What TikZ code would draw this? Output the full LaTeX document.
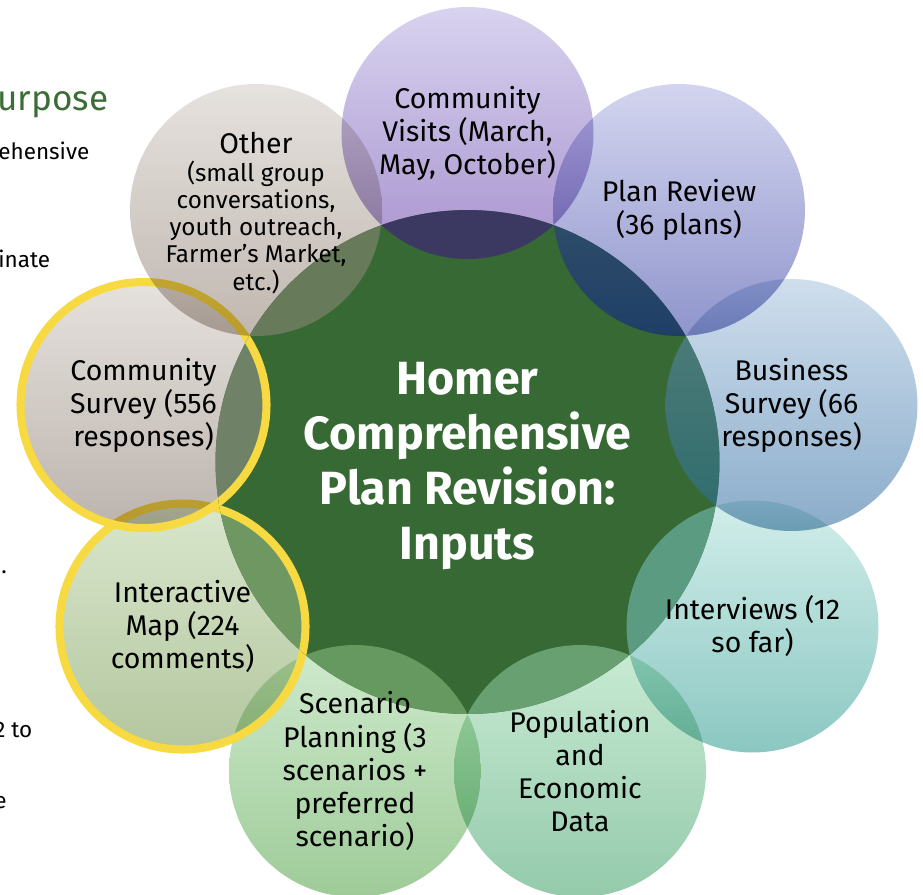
\documentclass[tikz,border=0pt]{standalone}
\usepackage{fontspec}
\setmainfont{Fira Sans}

\definecolor{hubgreen}{HTML}{366933}
\definecolor{slidegreen}{HTML}{3B6E36}
\definecolor{ringyellow}{HTML}{F7DA42}
\definecolor{visitsT}{HTML}{D8D3EF}
\definecolor{visitsB}{HTML}{A893CF}
\definecolor{planT}{HTML}{D3D5EF}
\definecolor{planB}{HTML}{8F95CC}
\definecolor{businessT}{HTML}{CFDEED}
\definecolor{businessB}{HTML}{8AACCA}
\definecolor{interT}{HTML}{D2EEEA}
\definecolor{interB}{HTML}{8BC7C2}
\definecolor{popT}{HTML}{C9EBD4}
\definecolor{popB}{HTML}{94CAAB}
\definecolor{scenT}{HTML}{CFEACD}
\definecolor{scenB}{HTML}{9ECB98}
\definecolor{mapT}{HTML}{D9E7CD}
\definecolor{mapB}{HTML}{B3C69E}
\definecolor{surveyT}{HTML}{E6E2DE}
\definecolor{surveyB}{HTML}{BCB3AD}
\definecolor{otherT}{HTML}{E6E2DE}
\definecolor{otherB}{HTML}{C0B7B0}

\newcommand{\otherbig}{\fontsize{16.2}{15.4}\selectfont}

\tikzset{
    bubble/.style={circle, inner sep=0pt, minimum size=5.04cm},
    bubbletext/.style={align=center, text=black, 
        font=\fontsize{16.2}{18.8}\selectfont},
    ring/.style={draw=ringyellow, line width=4.6pt, blend mode=normal},
    slidetext/.style={anchor=base west, inner sep=0pt, text=black, 
        font=\fontsize{12.8}{15}\selectfont},
}

\begin{document}
\begin{tikzpicture}[x=0.02cm, y=-0.02cm]
        \useasboundingbox (0,0) rectangle (923,894);
        % bits of the slide behind the diagram
        \draw (-3,110) node(purpose) [slidetext, text=slidegreen, 
            font=\fontsize{20}{23}\selectfont] {urpose};
        \draw (-2,159) node(slideA) [slidetext] {ehensive};
        \draw (-2,267) node(slideB) [slidetext] {inate};
        \draw (1,573) node(slideC) [slidetext] {.};
        \draw (-6,737) node(slideD) [slidetext] {2 to};
        \draw (-6,808) node(slideE) [slidetext] {e};
        % outer circles
        \begin{scope}[blend mode=multiply]
        \draw (467.5,133) node(visits) [bubble, 
            top color=visitsT, bottom color=visitsB] {};
        \draw (679,210) node(plan) [bubble, 
            top color=planT, bottom color=planB] {};
        \draw (791.5,405) node(business) [bubble, 
            top color=businessT, bottom color=businessB] {};
        \draw (752.5,626.5) node(inter) [bubble, 
            top color=interT, bottom color=interB] {};
        \draw (580,771) node(pop) [bubble, 
            top color=popT, bottom color=popB] {};
        \draw (355,771) node(scen) [bubble, 
            top color=scenT, bottom color=scenB] {};
        \draw (182.5,626.5) node(imap) [bubble, 
            top color=mapT, bottom color=mapB] {};
        \draw[ring] (imap.center) circle[radius=2.46cm];
        \draw (143.5,405) node(survey) [bubble, 
            top color=surveyT, bottom color=surveyB] {};
        \draw[ring] (survey.center) circle[radius=2.46cm];
        \draw (256,210) node(other) [bubble, 
            top color=otherT, bottom color=otherB] {};
        \end{scope}
        % centre
        \draw (467.5,462) node(hub) [circle, inner sep=0pt, 
            minimum size=10.08cm, fill=hubgreen] {};
        \begin{scope}
        \clip (hub.center) circle[radius=5.04cm];
        \fill[color={rgb,255:red,59;green,56;blue,98}] (visits.center) circle[radius=2.52cm];
        \shade[top color={rgb,255:red,61;green,91;blue,107}, 
            bottom color={rgb,255:red,32;green,63;blue,103}] (plan.center) circle[radius=2.52cm];
        \shade[top color={rgb,255:red,82;green,127;blue,123}, 
            bottom color={rgb,255:red,46;green,107;blue,108}] (business.center) circle[radius=2.52cm];
        \fill[color={rgb,255:red,91;green,155;blue,129}] (inter.center) circle[radius=2.52cm];
        \fill[color={rgb,255:red,104;green,160;blue,113}] (pop.center) circle[radius=2.52cm];
        \fill[color={rgb,255:red,102;green,153;blue,95}] (scen.center) circle[radius=2.52cm];
        \fill[color={rgb,255:red,111;green,151;blue,97}] (imap.center) circle[radius=2.52cm];
        \fill[color={rgb,255:red,111;green,130;blue,103}] (survey.center) circle[radius=2.52cm];
        \fill[color={rgb,255:red,103;green,122;blue,90}] (other.center) circle[radius=2.52cm];
        \draw[ring] (imap.center) circle[radius=2.46cm];
        \draw[ring] (survey.center) circle[radius=2.46cm];
        \end{scope}
        % texts
        \draw (hub) node(title) [align=center, text=white, yshift=-2.5pt, 
            font=\bfseries\fontsize{26.5}{31.3}\selectfont] 
        {Homer\\ Comprehensive\\ Plan Revision:\\ Inputs};
        \draw (visits) node(visitsL) [bubbletext] {Community\\ Visits (March,\\ May, October)};
        \draw (plan) node(planL) [bubbletext] {Plan Review\\ (36 plans)};
        \draw (business) node(businessL) [bubbletext] {Business\\ Survey (66\\ responses)};
        \draw (inter) node(interL) [bubbletext] {Interviews (12\\ so far)};
        \draw (pop) node(popL) [bubbletext] {Population\\ and\\ Economic\\ Data};
        \draw (scen) node(scenL) [bubbletext] {Scenario\\ Planning (3\\ scenarios +\\ preferred\\ scenario)};
        \draw (imap) node(imapL) [bubbletext] {Interactive\\ Map (224\\ comments)};
        \draw (survey) node(surveyL) [bubbletext] {Community\\ Survey (556\\ responses)};
        \draw (other) node(otherL) [bubbletext, yshift=-1.5pt, 
            font=\fontsize{13.8}{15.4}\selectfont] 
        {\otherbig Other\\[1pt] (small group\\ conversations,\\ 
            youth outreach,\\ Farmer’s Market,\\ etc.)};
    \end{tikzpicture}
\end{document}
